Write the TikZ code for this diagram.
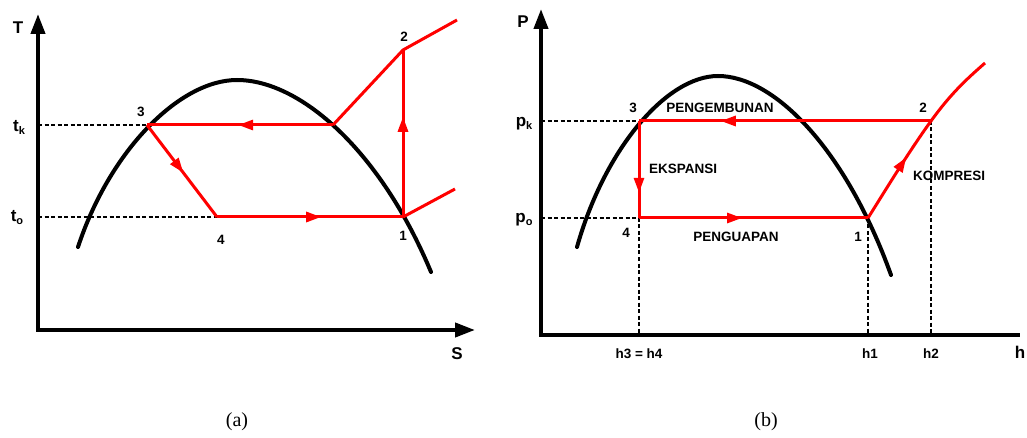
\documentclass[tikz,border=0pt]{standalone}
\usepackage{fontspec}
\setmainfont{Liberation Serif}
\setsansfont{Liberation Sans}
\usetikzlibrary{arrows.meta,decorations.markings}
\tikzset{
  axisln/.style={line width=4pt, black},
  domeln/.style={line width=4pt, black, line cap=round},
  cyc/.style={line width=3pt, red},
  dashln/.style={line width=1.6pt, black, dash pattern=on 4pt off 2.5pt},
  lbl/.style={font=\sffamily\bfseries\fontsize{13.5}{16}\selectfont, inner sep=0pt},
  axlbl/.style={font=\sffamily\bfseries\fontsize{17}{20}\selectfont, inner sep=0pt},
  captxt/.style={font=\rmfamily\fontsize{20}{24}\selectfont, inner sep=0pt},
  midarrow/.style={postaction={decorate, decoration={markings, mark=at position #1 with {\arrow{Triangle[length=15pt,width=10pt]}}}}},
}
\newcommand{\sbk}[1]{{\fontsize{11}{11}\selectfont\raisebox{-3pt}{#1}}}
\begin{document}
\begin{tikzpicture}[x=1pt,y=-1pt]
\useasboundingbox (0,0) rectangle (1027,438);
% ---------- (a) ----------
\coordinate (aT) at (38,14);
\coordinate (aO) at (38,330);
\coordinate (aS) at (475,330);
\coordinate (atk) at (38,125);
\coordinate (ato) at (38,217);
\coordinate (a3) at (147,125);
\coordinate (ax) at (333,125);
\coordinate (a4) at (217,217);
\coordinate (a1) at (403,217);
\coordinate (a2) at (403,50);
\coordinate (a2e) at (457,20);
\coordinate (a1e) at (455,189);
\coordinate (aL) at (78,247);
\coordinate (aTop) at (237,80);
\coordinate (aR) at (431,272);
\draw[axisln, {Triangle[length=20pt,width=14pt]}-{Triangle[length=20pt,width=14pt]}] (aT) -- (aO) -- (aS);
\draw[domeln] (aL) .. controls (110,150) and (180,80) .. (aTop) .. controls (300,80) and (380,150) .. (aR);
\draw[dashln] (atk) -- (a3);
\draw[dashln] (ato) -- (a4);
\draw[cyc, midarrow=0.51] (ax) -- (a3);
\draw[cyc, midarrow=0.52] (a3) -- (a4);
\draw[cyc, midarrow=0.56] (a4) -- (a1);
\draw[cyc, midarrow=0.6] (a1) -- (a2);
\draw[cyc, line join=miter] (ax) -- (a2) -- (a2e);
\draw[cyc] (a1) -- (a1e);
\node[axlbl] (lT) at (18,28) {T};
\node[axlbl] (lS) at (457,354) {S};
\node[axlbl] (ltk) at (19,127) {t\sbk{k}};
\node[axlbl] (lto) at (17,218) {t\sbk{o}};
\node[lbl] (l3a) at (141,112) {3};
\node[lbl] (l2a) at (404,37) {2};
\node[lbl] (l4a) at (221,240) {4};
\node[lbl] (l1a) at (403,236) {1};
\node[captxt] (capa) at (237,422) {(a)};
% ---------- (b) ----------
\coordinate (bP) at (541,9);
\coordinate (bO) at (541,335);
\coordinate (bH) at (1020,335);
\coordinate (bpk) at (541,121);
\coordinate (bpo) at (541,218);
\coordinate (b3) at (639,121);
\coordinate (b4) at (639,218);
\coordinate (b1) at (868,218);
\coordinate (b2) at (931,121);
\coordinate (b2e) at (985,63);
\coordinate (bh34) at (639,335);
\coordinate (bh1) at (868,335);
\coordinate (bh2) at (931,335);
\coordinate (bL) at (577,247);
\coordinate (bTop) at (718,76);
\coordinate (bR) at (891,275);
\draw[axisln, {Triangle[length=20pt,width=14pt]}-] (bP) -- (bO) -- (bH);
\draw[domeln] (bL) .. controls (605,148) and (667,76) .. (bTop) .. controls (774,76) and (845.5,148.6) .. (bR);
\draw[dashln] (bpk) -- (b3);
\draw[dashln] (bpo) -- (b4);
\draw[dashln] (b4) -- (bh34);
\draw[dashln] (b1) -- (bh1);
\draw[dashln] (b2) -- (bh2);
\draw[cyc, midarrow=0.72] (b2) -- (b3);
\draw[cyc, midarrow=0.74] (b3) -- (b4);
\draw[cyc, midarrow=0.45] (b4) -- (b1);
\draw[cyc, midarrow=0.62] (b1) .. controls (888,186) and (910,150) .. (b2);
\draw[cyc] (b2) .. controls (952,92) and (968,78) .. (b2e);
\node[axlbl] (lP) at (523,22) {P};
\node[axlbl] (lh) at (1020,352) {h};
\node[axlbl] (lpk) at (524,124) {p\sbk{k}};
\node[axlbl] (lpo) at (524,220) {p\sbk{o}};
\node[lbl] (l3b) at (633,108) {3};
\node[lbl] (lpeng) at (720,108) {PENGEMBUNAN};
\node[lbl] (l2b) at (923,108) {2};
\node[lbl] (leks) at (683,169) {EKSPANSI};
\node[lbl] (lkom) at (949,176) {KOMPRESI};
\node[lbl] (l4b) at (626,233) {4};
\node[lbl] (lpgu) at (736,237) {PENGUAPAN};
\node[lbl] (l1b) at (858,237) {1};
\node[lbl] (lh34) at (639,354) {h3 = h4};
\node[lbl] (lh1) at (870,354) {h1};
\node[lbl] (lh2) at (931,354) {h2};
\node[captxt] (capb) at (766,422) {(b)};
\end{tikzpicture}
\end{document}
